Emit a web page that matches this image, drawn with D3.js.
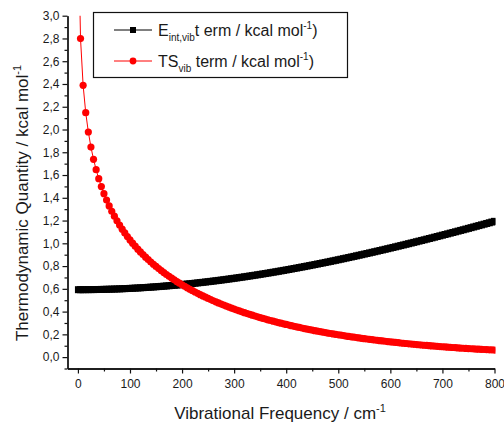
<!DOCTYPE html>
<html><head><meta charset="utf-8">
<script src="https://cdn.jsdelivr.net/npm/d3@7/dist/d3.min.js"></script>
<style>
body{margin:0;background:#fff}
text{font-family:"Liberation Sans",Arial,sans-serif;fill:#1a1a1a}
</style>
</head><body>
<svg id="chart" width="504" height="424"></svg>
<script>
// Vibrational frequency grid (cm^-1): first point at 1, then every 5 up to 800
const freq = [1].concat(d3.range(5, 801, 5));

// E_int,vib term (kcal/mol)
const eIntVib = [0.5925,
0.5925,0.5926,0.5928,0.5930,0.5932,0.5935,0.5939,0.5943,0.5948,0.5954,
0.5960,0.5966,0.5974,0.5981,0.5990,0.5998,0.6008,0.6018,0.6028,0.6040,
0.6051,0.6064,0.6076,0.6090,0.6104,0.6118,0.6133,0.6149,0.6165,0.6182,
0.6199,0.6216,0.6235,0.6254,0.6273,0.6293,0.6313,0.6334,0.6356,0.6378,
0.6401,0.6424,0.6447,0.6471,0.6496,0.6521,0.6547,0.6573,0.6600,0.6627,
0.6655,0.6683,0.6711,0.6741,0.6770,0.6800,0.6831,0.6862,0.6894,0.6926,
0.6958,0.6991,0.7024,0.7058,0.7093,0.7127,0.7163,0.7198,0.7234,0.7271,
0.7308,0.7345,0.7383,0.7422,0.7460,0.7499,0.7539,0.7579,0.7619,0.7660,
0.7701,0.7743,0.7785,0.7827,0.7870,0.7913,0.7956,0.8000,0.8045,0.8089,
0.8134,0.8180,0.8225,0.8271,0.8318,0.8364,0.8412,0.8459,0.8507,0.8555,
0.8603,0.8652,0.8701,0.8751,0.8800,0.8850,0.8901,0.8951,0.9002,0.9054,
0.9105,0.9157,0.9209,0.9262,0.9314,0.9367,0.9421,0.9474,0.9528,0.9582,
0.9636,0.9691,0.9746,0.9801,0.9856,0.9912,0.9968,1.0024,1.0080,1.0137,
1.0194,1.0251,1.0308,1.0366,1.0423,1.0481,1.0539,1.0598,1.0656,1.0715,
1.0774,1.0833,1.0893,1.0952,1.1012,1.1072,1.1132,1.1192,1.1253,1.1314,
1.1375,1.1436,1.1497,1.1558,1.1620,1.1681,1.1743,1.1805,1.1868,1.1930];

// TS_vib term (kcal/mol)
const tsVib = [3.7527,
2.7991,2.3885,2.1483,1.9780,1.8459,1.7380,1.6469,1.5680,1.4984,1.4363,
1.3801,1.3289,1.2818,1.2383,1.1978,1.1600,1.1246,1.0912,1.0597,1.0299,
1.0016,0.9746,0.9489,0.9243,0.9008,0.8783,0.8567,0.8359,0.8159,0.7967,
0.7781,0.7602,0.7429,0.7261,0.7099,0.6942,0.6789,0.6642,0.6499,0.6359,
0.6224,0.6093,0.5965,0.5841,0.5720,0.5602,0.5487,0.5375,0.5266,0.5159,
0.5055,0.4954,0.4855,0.4759,0.4664,0.4572,0.4482,0.4394,0.4308,0.4224,
0.4142,0.4061,0.3982,0.3906,0.3830,0.3756,0.3684,0.3613,0.3544,0.3477,
0.3410,0.3345,0.3281,0.3219,0.3158,0.3098,0.3039,0.2981,0.2925,0.2870,
0.2816,0.2762,0.2710,0.2659,0.2609,0.2560,0.2511,0.2464,0.2418,0.2372,
0.2327,0.2284,0.2241,0.2199,0.2157,0.2117,0.2077,0.2038,0.1999,0.1962,
0.1925,0.1889,0.1853,0.1818,0.1784,0.1750,0.1717,0.1685,0.1653,0.1622,
0.1592,0.1561,0.1532,0.1503,0.1475,0.1447,0.1419,0.1393,0.1366,0.1340,
0.1315,0.1290,0.1266,0.1241,0.1218,0.1195,0.1172,0.1150,0.1128,0.1106,
0.1085,0.1065,0.1044,0.1024,0.1005,0.0986,0.0967,0.0948,0.0930,0.0912,
0.0895,0.0878,0.0861,0.0844,0.0828,0.0812,0.0796,0.0781,0.0766,0.0751,
0.0737,0.0723,0.0709,0.0695,0.0681,0.0668,0.0655,0.0643,0.0630,0.0618];

const xTicks = [0,100,200,300,400,500,600,700,800];
const xMinorTicks = [50,150,250,350,450,550,650,750];
const yTicks = [0,0.2,0.4,0.6,0.8,1.0,1.2,1.4,1.6,1.8,2.0,2.2,2.4,2.6,2.8,3.0];
const yMinorTicks = [-0.1,0.1,0.3,0.5,0.7,0.9,1.1,1.3,1.5,1.7,1.9,2.1,2.3,2.5,2.7,2.9];

const legendItems = [
  {main:"E", sub:"int,vib", rest:"t erm / kcal mol", color:"#000", shape:"square"},
  {main:"TS", sub:"vib", rest:" term / kcal mol", color:"#ff0000", shape:"circle"}
];

const svg = d3.select("#chart");
const L = 67.5, R = 494.5, T = 15.7, B = 368.5;
const x = d3.scaleLinear().domain([-20, 800]).range([L, R]);
const y = d3.scaleLinear().domain([-0.1, 3.0]).range([B, T]);

svg.append("defs").append("clipPath").attr("id","clip")
  .append("rect").attr("x", L).attr("y", T).attr("width", R - L + 1).attr("height", B - T);

const fmt = d => d.toFixed(1).replace(".", ",");

// axes
const axStyle = g => {
  g.selectAll("path").attr("stroke","#111").attr("stroke-width",1.3);
  g.selectAll("line").attr("stroke","#111").attr("stroke-width",1.2);
  g.selectAll("text").attr("font-size","12px").attr("fill","#1a1a1a")
    .attr("font-family",'"Liberation Sans",Arial,sans-serif');
};
svg.append("g").attr("transform",`translate(0,${B})`)
  .call(d3.axisBottom(x).tickValues(xTicks).tickSize(5).tickSizeOuter(0).tickPadding(6).tickFormat(d3.format("d")))
  .call(axStyle);
svg.append("g").attr("transform",`translate(0,${B})`)
  .call(d3.axisBottom(x).tickValues(xMinorTicks).tickSize(3).tickSizeOuter(0).tickFormat(""))
  .call(axStyle);
svg.append("g").attr("transform",`translate(${L},0)`)
  .call(d3.axisLeft(y).tickValues(yTicks).tickSize(5).tickSizeOuter(0).tickPadding(3).tickFormat(fmt))
  .call(axStyle);
svg.append("g").attr("transform",`translate(${L},0)`)
  .call(d3.axisLeft(y).tickValues(yMinorTicks).tickSize(3).tickSizeOuter(0).tickFormat(""))
  .call(axStyle);

// axis titles
const xt = svg.append("text").attr("x", 280).attr("y", 419).attr("text-anchor","middle")
  .attr("font-size","17px");
xt.append("tspan").text("Vibrational Frequency / cm");
xt.append("tspan").attr("font-size","11px").attr("dy",-7).text("-1");

const yt = svg.append("text").attr("transform","translate(28,203) rotate(-90)")
  .attr("text-anchor","middle").attr("font-size","17px");
yt.append("tspan").text("Thermodynamic Quantity / kcal mol");
yt.append("tspan").attr("font-size","11px").attr("dy",-7).text("-1");

// series
const plot = svg.append("g").attr("clip-path","url(#clip)");
const series = [
  {vals: eIntVib, color:"#000", shape:"square"},
  {vals: tsVib, color:"#ff0000", shape:"circle"}
];
const line = d3.line().x(d => x(d[0])).y(d => y(d[1]));
series.forEach(s => {
  const pts = freq.map((f,i) => [f, s.vals[i]]);
  plot.append("path").datum(pts).attr("d", line).attr("fill","none")
    .attr("stroke", s.color).attr("stroke-width",1);
  if (s.shape === "square") {
    plot.selectAll(null).data(pts).enter().append("rect")
      .attr("x", d => x(d[0]) - 3.5).attr("y", d => y(d[1]) - 3.5)
      .attr("width",7).attr("height",7).attr("fill", s.color);
  } else {
    plot.selectAll(null).data(pts).enter().append("circle")
      .attr("cx", d => x(d[0])).attr("cy", d => y(d[1])).attr("r",3.6)
      .attr("fill", s.color);
  }
});

// legend
const lg = svg.append("g");
lg.append("rect").attr("x",93.5).attr("y",12.5).attr("width",254).attr("height",65)
  .attr("fill","#fff").attr("stroke","#111").attr("stroke-width",1.2);
legendItems.forEach((it, i) => {
  const cy = 30 + i * 31;
  lg.append("line").attr("x1",114).attr("x2",152).attr("y1",cy).attr("y2",cy)
    .attr("stroke", it.color).attr("stroke-width",1);
  if (it.shape === "square") {
    lg.append("rect").attr("x",130).attr("y",cy-3).attr("width",6).attr("height",6).attr("fill",it.color);
  } else {
    lg.append("circle").attr("cx",133).attr("cy",cy).attr("r",3.4).attr("fill",it.color);
  }
  const t = lg.append("text").attr("x",158).attr("y",cy+5.5).attr("font-size","16px")
    .style("white-space","pre");
  t.append("tspan").text(it.main);
  t.append("tspan").attr("font-size","10px").attr("dy",5).text(it.sub);
  t.append("tspan").attr("dy",-5).text(it.rest);
  t.append("tspan").attr("font-size","10px").attr("dy",-7).text("-1");
  t.append("tspan").attr("dy",7).text(")");
});
</script>
</body></html>
